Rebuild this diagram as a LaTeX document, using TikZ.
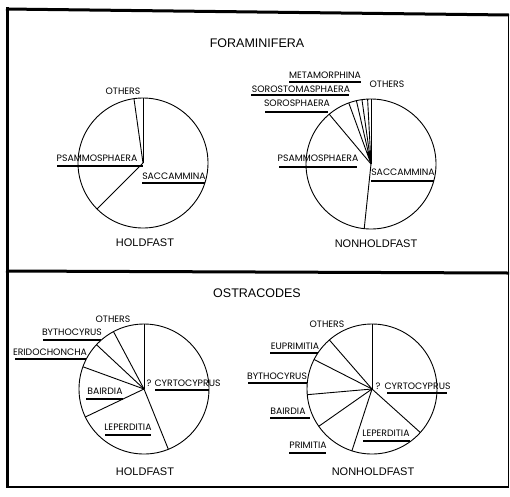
\documentclass[tikz,border=0pt]{standalone}
\usepackage{fontspec}
\setmainfont{Liberation Sans}
\newfontfamily\lblfont{Poppins}
\begin{document}
\begin{tikzpicture}[x=1pt,y=-1pt,
  pie/.style={line width=0.9pt},
  ul/.style={line width=1.8pt},
  frm/.style={line width=3pt},
  lbl/.style={inner sep=0pt,font=\lblfont\fontsize{9.3}{10}\selectfont},
  ttl/.style={inner sep=0pt,font=\fontsize{12.5}{14}\selectfont},
  captxt/.style={inner sep=0pt,font=\fontsize{11}{13}\selectfont}]
\useasboundingbox (0,0) rectangle (510,496);
% frame
\draw[frm] (7.5,7) -- (7.5,488);
\draw[frm] (6,9) -- (509,15);
\draw[frm] (6,271) -- (509,273);
\draw[line width=1.5pt] (6,487) -- (509,487);
\draw[line width=1pt] (508,14) -- (508,488);
% titles
\node[ttl] (t1) at (257,43) {FORAMINIFERA};
\node[ttl] (t2) at (257,293) {OSTRACODES};
% ---------- Pie A: foraminifera holdfast
\coordinate (A) at (143,163);
\draw[pie] (A) circle[radius=65pt];
\foreach \a in {90,98,225} \draw[pie] (A) -- ++(\a:65pt);
\node[lbl] (a1) at (123,91) {OTHERS};
\node[lbl] (a2) at (97,158.5) {PSAMMOSPHAERA};
\draw[ul] (57,166) -- (143,166);
\node[lbl] (a3) at (174,176.5) {SACCAMMINA};
\draw[ul] (142,183) -- (205,183);
\node[captxt] (a4) at (145,243) {HOLDFAST};
% ---------- Pie B: foraminifera nonholdfast
\coordinate (B) at (371,164);
\draw[pie] (B) circle[radius=65pt];
\foreach \a in {90,93,98,103,110,130,264} \draw[pie] (B) -- ++(\a:65pt);
\fill (B) -- ++(90:13pt) arc[start angle=90,end angle=110,radius=13pt] -- cycle;
\node[lbl] (b1) at (325,75.5) {METAMORPHINA};
\draw[ul] (289,82) -- (361,82);
\node[lbl] (b2) at (301,89) {SOROSTOMASPHAERA};
\draw[ul] (251,95) -- (349,95);
\node[lbl] (b3) at (297,103) {SOROSPHAERA};
\draw[ul] (265,112) -- (328,112);
\node[lbl] (b4) at (387,84) {OTHERS};
\node[lbl] (b5) at (318,158.5) {PSAMMOSPHAERA};
\draw[ul] (279,167) -- (357,167);
\node[lbl] (b6) at (403,172.5) {SACCAMMINA};
\draw[ul] (371,181) -- (434,181);
\node[captxt] (b7) at (376,244) {NONHOLDFAST};
% ---------- Pie C: ostracodes holdfast
\coordinate (C) at (144,389);
\draw[pie] (C) circle[radius=65pt];
\foreach \a in {90,118,137,160,205.5,292} \draw[pie] (C) -- ++(\a:65pt);
\node[lbl] (c1) at (113,319) {OTHERS};
\node[lbl] (c2) at (72,332.5) {BYTHOCYRUS};
\draw[ul] (43,340) -- (101,340);
\node[lbl] (c3) at (50,352.5) {ERIDOCHONCHA};
\draw[ul] (15,359) -- (86,359);
\node[lbl] (c4) at (105,391) {BAIRDIA};
\draw[ul] (86,399) -- (123,399);
\node[lbl] (c5) at (128,427) {LEPERDITIA};
\draw[ul] (105,435) -- (151,435);
\node[lbl] (c6) at (149,383) {?};
\node[lbl] (c7) at (187.5,383) {CYRTOCYPRUS};
\draw[ul] (155,390) -- (209,390);
\node[captxt] (c8) at (145,472) {HOLDFAST};
% ---------- Pie D: ostracodes nonholdfast
\coordinate (D) at (372,389);
\draw[pie] (D) circle[radius=65pt];
\foreach \a in {90,131,153,185,215,252,318} \draw[pie] (D) -- ++(\a:65pt);
\node[lbl] (d1) at (327,324) {OTHERS};
\node[lbl] (d2) at (295,346.5) {EUPRIMITIA};
\draw[ul] (270,353) -- (318,353);
\node[lbl] (d3) at (277,376.5) {BYTHOCYRUS};
\draw[ul] (248,383) -- (307,383);
\node[lbl] (d4) at (288,411.5) {BAIRDIA};
\draw[ul] (270,418) -- (310,418);
\node[lbl] (d5) at (308,445.5) {PRIMITIA};
\draw[ul] (289,453) -- (326,453);
\node[lbl] (d6) at (386,433.5) {LEPERDITIA};
\draw[ul] (363,441) -- (410,441);
\node[lbl] (d7) at (378,386) {?};
\node[lbl] (d8) at (417.5,386) {CYRTOCYPRUS};
\draw[ul] (387,393) -- (447,393);
\node[captxt] (d9) at (373,472) {NONHOLDFAST};
\end{tikzpicture}
\end{document}
